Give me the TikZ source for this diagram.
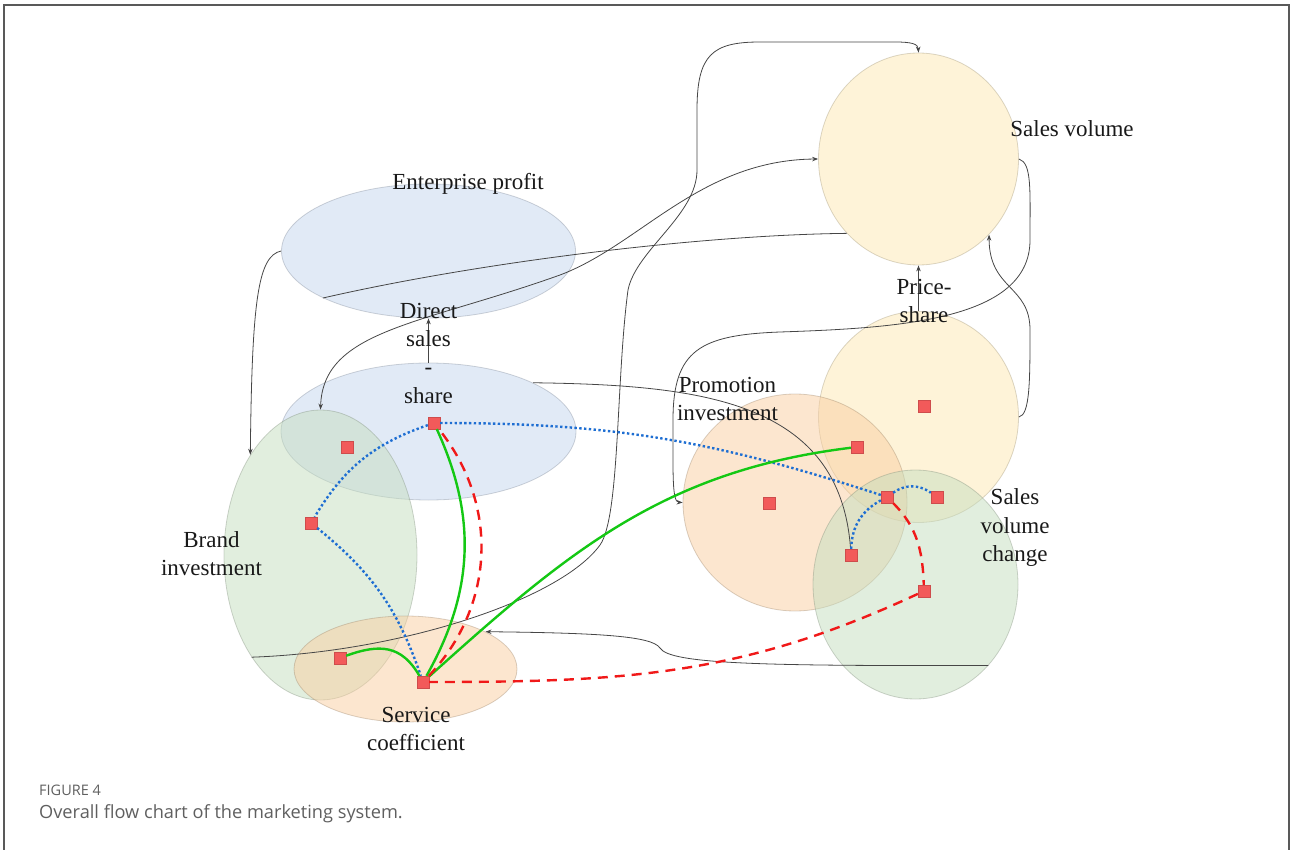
\documentclass[tikz,border=0pt]{standalone}
\usepackage{fontspec}
\setmainfont{Liberation Serif}
\newfontfamily\capfont{Open Sans}
\usetikzlibrary{shapes.geometric,arrows.meta}

\definecolor{epblue}{RGB}{196,214,238}
\definecolor{brgreen}{RGB}{196,221,190}
\definecolor{scorange}{RGB}{249,206,160}
\definecolor{svyellow}{RGB}{253,232,178}
\definecolor{sqred}{RGB}{242,90,90}
\definecolor{lnblue}{RGB}{30,110,210}
\definecolor{lngreen}{RGB}{20,200,20}
\definecolor{lnred}{RGB}{240,25,25}
\definecolor{lngray}{RGB}{70,70,70}
\definecolor{capgray}{RGB}{95,95,95}

\begin{document}
\begin{tikzpicture}[x=1pt,y=-1pt,
  blob/.style={ellipse, inner sep=0pt, line width=0.8pt, fill opacity=0.5, draw opacity=0.35},
  sq/.style={rectangle, minimum size=12pt, inner sep=0pt, fill=sqred, draw=sqred!85!black, line width=0.3pt},
  lbl/.style={align=center, inner sep=0pt, font=\fontsize{23}{28.3}\selectfont, text=black!90},
  flowbare/.style={draw=lngray, line width=0.8pt},
  flow/.style={flowbare, -{Stealth[length=6pt,width=4.5pt]}},
  flowboth/.style={flowbare, {Stealth[length=6pt,width=4.5pt]}-{Stealth[length=6pt,width=4.5pt]}},
  bluedot/.style={draw=lnblue, line width=2.4pt, dash pattern=on 2.4pt off 2.4pt},
  greenline/.style={draw=lngreen, line width=2.4pt},
  reddash/.style={draw=lnred, line width=2.4pt, dash pattern=on 10pt off 7pt},
  capt/.style={anchor=base west, inner sep=0pt, text=capgray}]
\useasboundingbox (0,0) rectangle (1290,850);
\draw[draw=black!65, line width=1.5pt] (4,850) -- (4,5) -- (1289,5) -- (1289,850);

% areas
\node[blob, fill=epblue, draw=epblue!60!black, minimum width=294, minimum height=134] (ep) at (428.5,251) {};
\node[blob, fill=epblue, draw=epblue!60!black, minimum width=295, minimum height=137] (ds) at (428.5,431.5) {};
\node[blob, fill=brgreen, draw=brgreen!60!black, minimum width=193, minimum height=290] (bi) at (320.5,555) {};
\node[blob, fill=scorange, draw=scorange!60!black, minimum width=223, minimum height=106] (sc) at (405.5,669) {};
\node[blob, fill=svyellow, draw=svyellow!60!black, minimum width=200, minimum height=212] (sv) at (918.5,159) {};
\node[blob, fill=svyellow, draw=svyellow!60!black, minimum width=200, minimum height=211] (ps) at (918.5,417) {};
\node[blob, fill=scorange, draw=scorange!60!black, minimum width=224, minimum height=217] (pi) at (795,502.5) {};
\node[blob, fill=brgreen, draw=brgreen!60!black, minimum width=205, minimum height=229] (vc) at (915.5,584.5) {};

% markers
\node[sq] (bi1) at (347,447) {};
\node[sq] (ds1) at (434,423) {};
\node[sq] (bi2) at (311,523) {};
\node[sq] (sc1) at (340,658) {};
\node[sq] (sc2) at (423,682) {};
\node[sq] (pi1) at (857,447) {};
\node[sq] (ps1) at (924,406) {};
\node[sq] (pi2) at (769,503) {};
\node[sq] (vc1) at (887,497) {};
\node[sq] (vc2) at (937,497) {};
\node[sq] (vc3) at (851,555) {};
\node[sq] (vc4) at (924,591) {};

% gray links
\draw[flow] (ds.north) -- (ep.south);
\draw[flow] (ps.north) -- (sv.south);
\draw[flow] (ep.west) .. controls (258,256) and (252,300) .. (bi.125);
\draw[flowboth] (sv.west) .. controls (700,160) and (640,245) .. (560,275) .. controls (420,325) and (323,330) .. (bi.north);
\draw[flowbare] (sv.226) .. controls (700,235) and (480,262) .. (ep.204);
\draw[flow] (bi.236) .. controls (400,652) and (560,600) .. (600,545) .. controls (620,517) and (616,380) .. (628,290)
  .. controls (636,250) and (697,215) .. (697,170) -- (697,110) .. controls (697,55) and (712,42) .. (760,42)
  -- (895,42) .. controls (912,42) and (918,44) .. (sv.north);
\draw[flow] (ps.east) .. controls (1030,415) and (1030,380) .. (1030,330) .. controls (1030,285) and (989,290) .. (sv.-47);
\draw[flow] (sv.east) .. controls (1032,163) and (1030,190) .. (1030,240) .. controls (1030,320) and (900,328) .. (780,332)
  .. controls (700,335) and (673,350) .. (673,420) .. controls (673,475) and (672,502) .. (pi.west);
\draw[flowbare] (ds.25) .. controls (700,385) and (840,400) .. (vc3);
\draw[flow] (vc.-48) .. controls (760,666) and (670,664) .. (660,648) .. controls (652,636) and (600,633) .. (sc.25);

% coloured paths
\draw[bluedot] (ds1) to[bend right=20] (bi2);
\draw[bluedot] (bi2) to[bend left=16] (sc2);
\draw[bluedot] (ds1) to[out=0,in=162] (vc1);
\draw[bluedot] (vc1) to[bend left=35] (vc2);
\draw[bluedot] (vc1) to[bend right=30] (vc3);
\draw[greenline] (sc2) to[bend right=27] (ds1);
\draw[greenline] (sc2) to[out=42,in=187] (pi1);
\draw[greenline] (sc1) to[out=20,in=120,looseness=1.2] (sc2);
\draw[reddash] (sc2) to[bend right=41] (ds1);
\draw[reddash] (vc1) to[out=-45,in=92] (vc4);
\draw[reddash] (vc4) to[out=205,in=0] (sc2);

% labels
\node[lbl] (eplbl) at (468,184) {Enterprise profit};
\node[lbl] (dslbl) at (428.5,353.3) {Direct\\sales\\-\\share};
\node[lbl] (bilbl) at (211.5,553.5) {Brand\\investment};
\node[lbl] (sclbl) at (416,729.2) {Service\\coefficient};
\node[lbl] (svlbl) at (1072,128.5) {Sales volume};
\node[lbl] (pslbl) at (924,301.2) {Price-\\share};
\node[lbl] (pilbl) at (727.5,398.7) {Promotion\\investment};
\node[lbl] (vclbl) at (1015,527.7) {Sales\\volume\\change};

% caption
\node[capt, font=\capfont\fontsize{14.5}{17}\selectfont] (fig) at (39,795) {FIGURE 4};
\node[capt, font=\capfont\fontsize{18.2}{21}\selectfont] (cap) at (39,818) {Overall flow chart of the marketing system.};
\end{tikzpicture}
\end{document}
